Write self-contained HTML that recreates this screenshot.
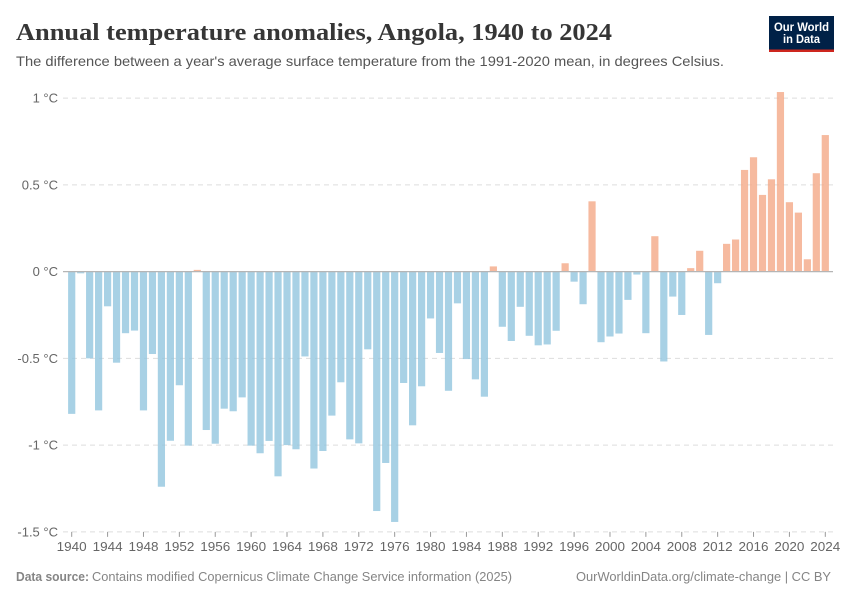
<!DOCTYPE html>
<html lang="en">
<head>
<meta charset="utf-8">
<title>Annual temperature anomalies, Angola, 1940 to 2024</title>
<style>
html,body{margin:0;padding:0;background:#fff;width:850px;height:600px;overflow:hidden}
svg{display:block}
text{font-family:"Liberation Sans",sans-serif}
</style>
</head>
<body>
<svg id="chart" width="850" height="600" viewBox="0 0 850 600" xmlns="http://www.w3.org/2000/svg">
  <rect x="0" y="0" width="850" height="600" fill="#fff"/>
  <text x="16" y="40" font-size="24" font-weight="bold" fill="#363636" style='font-family:"Liberation Serif",serif' textLength="596" lengthAdjust="spacingAndGlyphs">Annual temperature anomalies, Angola, 1940 to 2024</text>
  <text x="16" y="66" font-size="14" fill="#555" textLength="708" lengthAdjust="spacingAndGlyphs">The difference between a year's average surface temperature from the 1991-2020 mean, in degrees Celsius.</text>
  <g>
    <rect x="769" y="16" width="65" height="36" fill="#002147"/>
    <rect x="769" y="49.5" width="65" height="2.5" fill="#ce261e"/>
    <text x="801.5" y="31" font-size="11.5" font-weight="bold" fill="#fff" text-anchor="middle" textLength="55" lengthAdjust="spacingAndGlyphs">Our World</text>
    <text x="801.5" y="43" font-size="11.5" font-weight="bold" fill="#fff" text-anchor="middle" textLength="37" lengthAdjust="spacingAndGlyphs">in Data</text>
  </g>
  <g id="grid"></g>
  <g id="bars"></g>
  <g id="axes"></g>
  <text x="16" y="581" font-size="12.5" font-weight="bold" fill="#858585" textLength="73" lengthAdjust="spacingAndGlyphs">Data source:</text>
  <text x="92" y="581" font-size="12.5" fill="#858585" textLength="420" lengthAdjust="spacingAndGlyphs">Contains modified Copernicus Climate Change Service information (2025)</text>
  <text x="576" y="581" font-size="12.5" fill="#858585" textLength="255" lengthAdjust="spacingAndGlyphs">OurWorldinData.org/climate-change | CC BY</text>
</svg>
<script>
const years = [1940,1941,1942,1943,1944,1945,1946,1947,1948,1949,
  1950,1951,1952,1953,1954,1955,1956,1957,1958,1959,
  1960,1961,1962,1963,1964,1965,1966,1967,1968,1969,
  1970,1971,1972,1973,1974,1975,1976,1977,1978,1979,
  1980,1981,1982,1983,1984,1985,1986,1987,1988,1989,
  1990,1991,1992,1993,1994,1995,1996,1997,1998,1999,
  2000,2001,2002,2003,2004,2005,2006,2007,2008,2009,
  2010,2011,2012,2013,2014,2015,2016,2017,2018,2019,
  2020,2021,2022,2023,2024];
const anomalies = [-0.82,-0.01,-0.5,-0.8,-0.2,-0.525,-0.355,-0.34,-0.8,-0.475,
  -1.24,-0.975,-0.655,-1.003,0.01,-0.913,-0.992,-0.79,-0.805,-0.725,
  -1.003,-1.047,-0.976,-1.18,-1.0,-1.024,-0.489,-1.135,-1.034,-0.83,
  -0.638,-0.967,-0.99,-0.448,-1.38,-1.103,-1.443,-0.642,-0.886,-0.661,
  -0.27,-0.469,-0.687,-0.183,-0.504,-0.621,-0.721,0.03,-0.318,-0.4,
  -0.203,-0.37,-0.425,-0.42,-0.341,0.048,-0.058,-0.188,0.405,-0.407,
  -0.374,-0.357,-0.163,-0.017,-0.355,0.204,-0.518,-0.144,-0.25,0.02,
  0.12,-0.365,-0.067,0.16,0.185,0.586,0.659,0.442,0.532,1.035,
  0.4,0.34,0.071,0.567,0.787];
const yTicks = [1,0.5,0,-0.5,-1,-1.5];
const xTicks = [1940,1944,1948,1952,1956,1960,1964,1968,1972,1976,1980,1984,1988,1992,1996,2000,2004,2008,2012,2016,2020,2024];

const SVGNS = 'http://www.w3.org/2000/svg';
const xScale = function (year) { return 71.7 + (year - 1940) * (825.3 - 71.7) / 84; };
const yScale = function (v) { return 271.6 - v * 173.5; };
const gridG = document.getElementById('grid');
const barsG = document.getElementById('bars');
const axesG = document.getElementById('axes');

function make(tag, parent, attrs, text) {
  const el = document.createElementNS(SVGNS, tag);
  for (const k in attrs) el.setAttribute(k, attrs[k]);
  if (text !== undefined) el.textContent = text;
  parent.appendChild(el);
  return el;
}

yTicks.forEach(function (t) {
  const y = yScale(t);
  if (t !== 0) {
    const line = make('line', gridG, {x1: 63, x2: 833, y1: y, y2: y, stroke: '#dddddd', 'stroke-width': 1, 'stroke-dasharray': '5,4'});
    
    
  }
  const label = make('text', axesG, {x: 58, y: y + 4.5, 'font-size': 13, fill: '#666', 'text-anchor': 'end'}, t + ' °C');
  
  
});

years.forEach(function (year, i) {
  const v = anomalies[i];
  const y0 = yScale(0);
  const y1 = yScale(v);
  const bar = make('rect', barsG, {
    x: xScale(year) - 3.6,
    y: Math.min(y0, y1),
    width: 7.2,
    height: Math.abs(y1 - y0),
    fill: v >= 0 ? '#f4a987' : '#92c5df',
    'fill-opacity': 0.8
  });
  
  
});

const zero = make('line', axesG, {x1: 63, x2: 833, y1: yScale(0), y2: yScale(0), stroke: '#b5b5b5', 'stroke-width': 1.2});



xTicks.forEach(function (year) {
  const x = xScale(year);
  const base = yScale(-1.5);
  const tick = make('line', axesG, {x1: x, x2: x, y1: base, y2: base + 5, stroke: '#999', 'stroke-width': 1});
  
  
  const label = make('text', axesG, {x: x, y: 551, 'font-size': 13, fill: '#666', 'text-anchor': 'middle', textLength: 30, lengthAdjust: 'spacingAndGlyphs'}, year);
  
  
});
</script>
</body>
</html>
